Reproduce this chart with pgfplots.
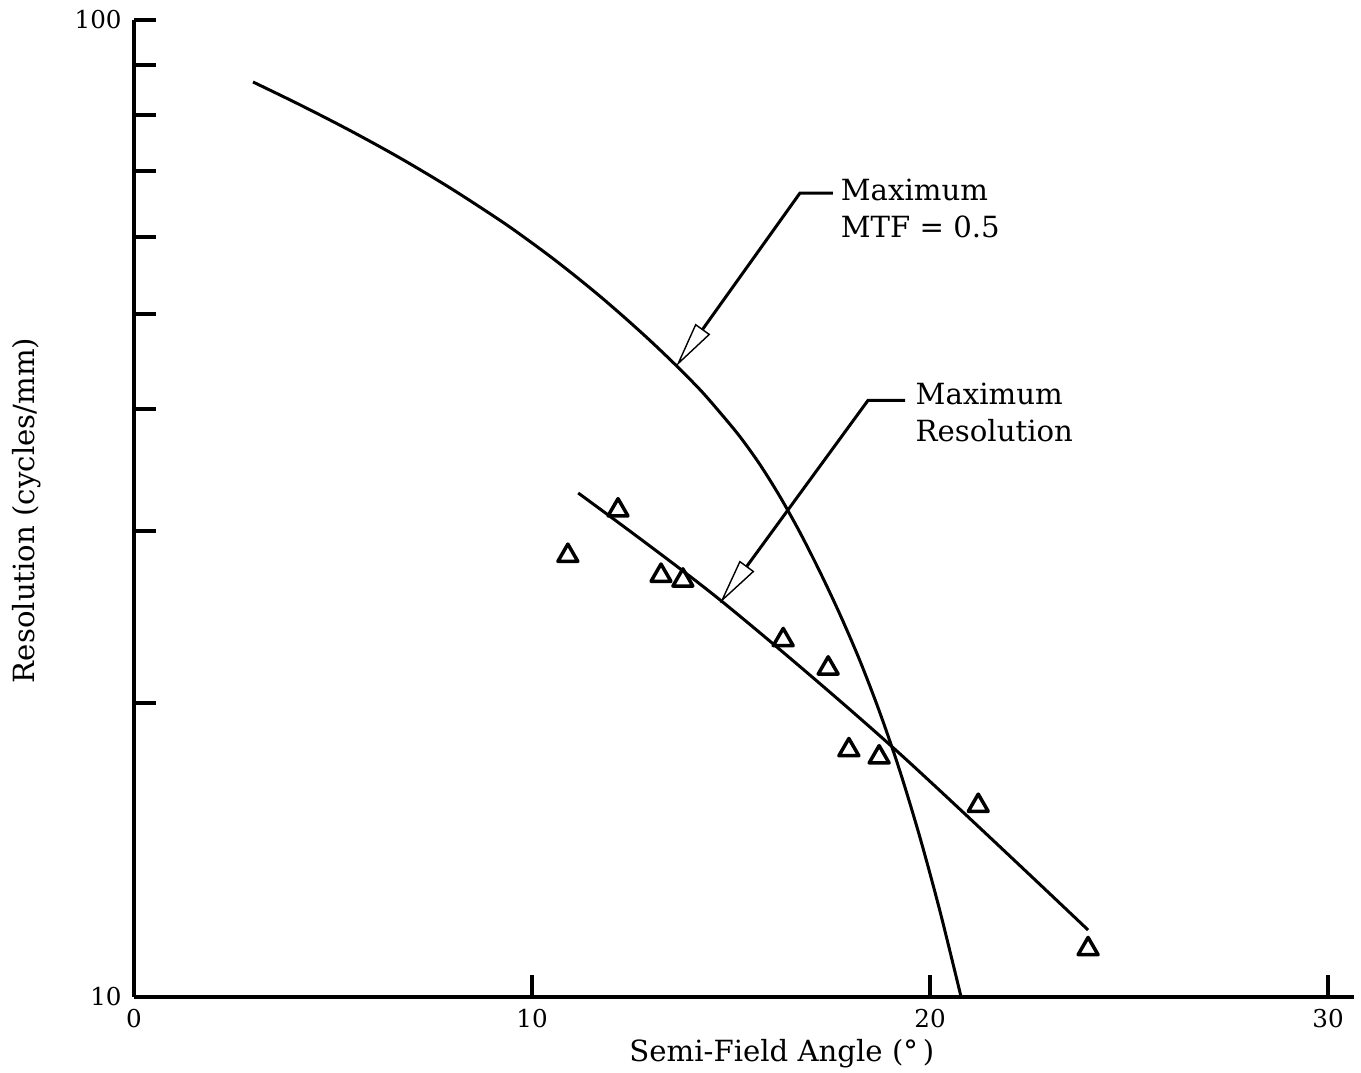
\documentclass[border=0pt]{standalone}
\usepackage{fontspec}
\setmainfont{DejaVu Serif}
\usepackage{pgfplots}
\pgfplotsset{compat=1.18}
\usetikzlibrary{arrows.meta}

\begin{document}
\begin{tikzpicture}
\begin{axis}[
  scale only axis, width=122mm, height=97.7mm,
  xmin=0, xmax=30.65, ymin=10, ymax=100, ymode=log,
  axis x line=bottom, axis y line=left,
  axis line style={-, line width=0.4mm},
  xtick={0,10,20,30}, xticklabels={0,10,20,30},
  ytick={10,20,30,40,50,60,70,80,90,100},
  yticklabels={10,,,,,,,,,100},
  yminorticks=false, xminorticks=false,
  tick align=inside,
  major tick length=2.2mm,
  every tick/.style={black, line width=0.4mm},
  tick label style={font=\fontsize{7}{8}\selectfont},
  /pgf/number format/assume math mode=true,
  xlabel={Semi-Field Angle (°\,)},
  ylabel={Resolution (cycles/mm)},
  every axis x label/.style={at={(axis description cs:0.531,0)}, anchor=center, yshift=-5.7mm, font=\fontsize{8.3}{10}\selectfont},
  every axis y label/.style={at={(axis description cs:0,0.498)}, xshift=-10.7mm, rotate=90, anchor=center, font=\fontsize{8.3}{10}\selectfont},
  clip=false,
]
% Maximum MTF = 0.5 curve
\addplot[line width=0.3mm, smooth, tension=0.5] coordinates {
  (2.990,86.41) (4.171,81.88) (5.427,77.08) (6.683,72.24) (7.940,67.33)
  (9.196,62.37) (9.824,59.84) (10.452,57.30) (11.080,54.72) (11.709,52.14)
  (12.337,49.55) (12.965,46.98) (13.593,44.41) (14.221,41.84)
  (14.724,39.65) (15.226,37.45) (15.729,35.06) (16.231,32.51) (16.734,29.87)
  (17.236,27.22) (17.739,24.62) (18.241,22.07) (18.744,19.52) (19.246,17.01)
  (19.749,14.55) (20.251,12.23) (20.779,10.00)
};
% Maximum resolution line
\addplot[line width=0.3mm, smooth, tension=0.5] coordinates {
  (11.16,32.8) (14.72,25.5) (19.07,18.0) (23.97,11.71)
};
% measured points
\addplot[only marks, mark=triangle, mark size=1.15mm, mark options={line width=0.35mm, line join=round}] coordinates {
  (12.16,31.5) (10.90,28.3) (13.24,27.0) (13.79,26.7) (16.31,23.2)
  (17.44,21.7) (17.96,17.9) (18.72,17.6) (21.21,15.7) (23.97,11.2)
};
% annotations
\draw[line width=0.3mm, -{Triangle[open, length=4.6mm, width=1.8mm, line width=0.4pt]}]
  (axis cs:17.56,66.5) -- (axis cs:16.73,66.5) -- (axis cs:13.62,44.2);
\draw[line width=0.3mm, -{Triangle[open, length=4.6mm, width=1.8mm, line width=0.4pt]}]
  (axis cs:19.37,40.8) -- (axis cs:18.44,40.8) -- (axis cs:14.72,25.3);
\node[anchor=base west, inner sep=0, font=\fontsize{8.3}{10}\selectfont] at (axis cs:17.74,65.4) {Maximum};
\node[anchor=base west, inner sep=0, font=\fontsize{8.3}{10}\selectfont] at (axis cs:17.74,59.96) {MTF = 0.5};
\node[anchor=base west, inner sep=0, font=\fontsize{8.3}{10}\selectfont] at (axis cs:19.62,40.4) {Maximum};
\node[anchor=base west, inner sep=0, font=\fontsize{8.3}{10}\selectfont] at (axis cs:19.62,37.0) {Resolution};
\end{axis}
\pgfresetboundingbox
\path[use as bounding box] (-13.4mm,-7.6mm) rectangle (122.7mm,99.7mm);
\end{tikzpicture}
\end{document}
